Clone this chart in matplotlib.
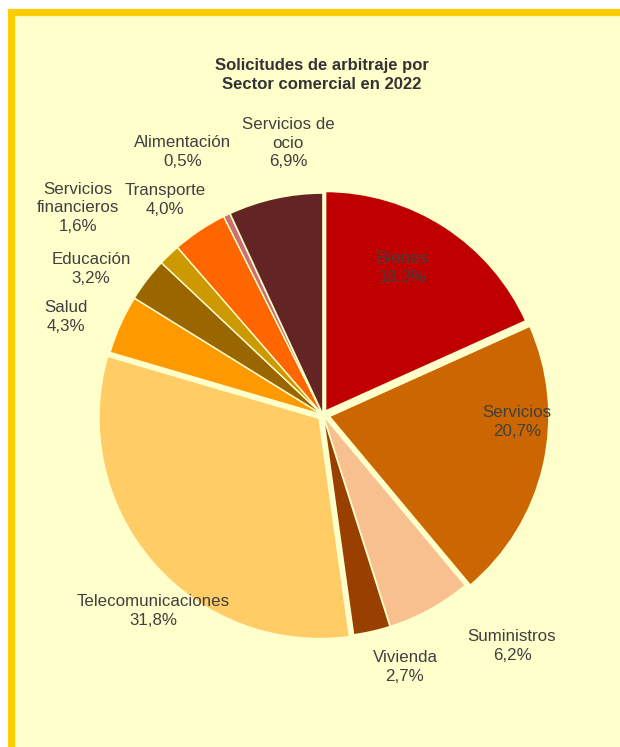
import matplotlib.pyplot as plt
from matplotlib.patches import Rectangle

# Datos
sectores = ['Bienes', 'Servicios', 'Suministros', 'Vivienda', 'Telecomunicaciones',
            'Salud', 'Educación', 'Servicios\nfinancieros', 'Transporte',
            'Alimentación', 'Servicios de\nocio']
porcentajes = [18.3, 20.7, 6.2, 2.7, 31.8, 4.3, 3.2, 1.6, 4.0, 0.5, 6.9]
colores = ['#C00000', '#CC6600', '#F9C08F', '#994000', '#FFCC66', '#FF9900',
           '#996600', '#CC9900', '#FF6600', '#CC7070', '#632523']
destacados = [3, 5, 0, 0, 4, 0, 0, 0, 0, 0, 0]  # en px
bordes = [2.5, 2.5, 1.2, 1.2, 2.5, 1.2, 1.0, 1.0, 1.0, 1.0, 1.2]

# posiciones de las etiquetas (px respecto al centro de la tarta)
pos_etiquetas = [(80, 147), (194, -7), (189, -231), (82, -252), (-170, -196),
                 (-257, 98), (-232, 146), (-245, 207), (-158, 215),
                 (-140, 263), (-35, 272)]

W, H = 620, 747
cx, cy, R = 323, 415, 222

fig = plt.figure(figsize=(W / 100, H / 100), dpi=100)
fig.patch.set_facecolor('white')
plt.rcParams['font.family'] = ['Liberation Sans', 'DejaVu Sans']

# fondo con borde dorado
fondo = Rectangle((11 / W, -0.1), 1.2, (H - 11.5) / H + 0.1, transform=fig.transFigure,
                  facecolor='#FFFFCC', edgecolor='#FFCC00', linewidth=5.2, zorder=0)
fig.add_artist(fondo)

half = 300
ax = fig.add_axes([(cx - half) / W, (H - cy - half) / H, 2 * half / W, 2 * half / H])
ax.axis('off')

cunas, _ = ax.pie(porcentajes, colors=colores, explode=destacados, radius=R,
                  startangle=90, counterclock=False, normalize=True,
                  wedgeprops=dict(edgecolor='#FFFFCC'))
for cuna, lw in zip(cunas, bordes):
    cuna.set_linewidth(lw)
ax.set_xlim(-half, half)
ax.set_ylim(-half, half)

for nombre, valor, (x, y) in zip(sectores, porcentajes, pos_etiquetas):
    texto = f'{nombre}\n{valor:.1f}%'.replace('.', ',')
    ax.text(x, y, texto, ha='center', va='center', fontsize=12.2, color='#404040',
            linespacing=1.3)

fig.text(322 / W, 1 - 75 / H, 'Solicitudes de arbitraje por\nSector comercial en 2022',
         ha='center', va='center', fontsize=12, fontweight='bold', color='#333333',
         linespacing=1.35)

fig.savefig('out.png', dpi=100)
